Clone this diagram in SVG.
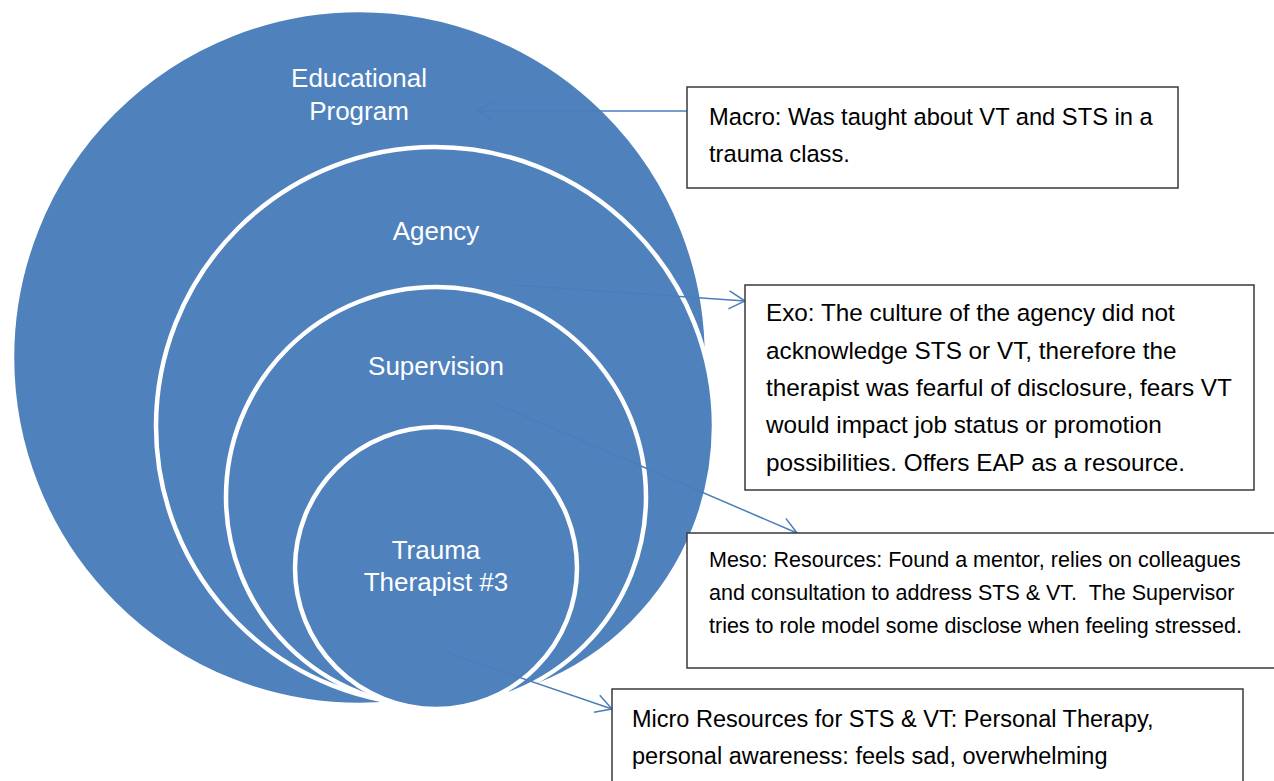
<svg xmlns="http://www.w3.org/2000/svg" width="1274" height="781" viewBox="0 0 1274 781">
  <defs>
    <style>
      .ring { fill: #4F81BD; stroke: #FFFFFF; stroke-width: 4.5; }
      .lbl { font-family: "Liberation Sans", Arial, sans-serif; font-size: 26px; fill: #FFFFFF; text-anchor: middle; }
      .box { fill: #FFFFFF; stroke: #3A3A3A; stroke-width: 1.5; }
      .txt { font-family: "Liberation Sans", Arial, sans-serif; fill: #000000; }
      .conn { fill: none; stroke: #4A7EBB; stroke-width: 1.5; marker-end: url(#arr); }
    </style>
    <marker id="arr" viewBox="0 0 18 20" refX="17" refY="10" markerWidth="18" markerHeight="20" markerUnits="userSpaceOnUse" orient="auto">
      <path d="M1,1 L17,10 L1,19" fill="none" stroke="#4A7EBB" stroke-width="1.5"/>
    </marker>
  </defs>
  <rect x="0" y="0" width="1274" height="781" fill="#FFFFFF"/>

  <g id="educational-program">
    <circle class="ring" cx="359.5" cy="357.5" r="347.5"/>
  </g>
  <g id="agency">
    <circle class="ring" cx="435" cy="426" r="279"/>
  </g>
  <g id="supervision">
    <circle class="ring" cx="436" cy="497" r="210"/>
  </g>
  <g id="trauma-therapist">
    <circle class="ring" cx="436" cy="568" r="141"/>
  </g>

  <g id="labels">
    <text class="lbl" x="359" y="87">Educational</text>
    <text class="lbl" x="359" y="120">Program</text>
    <text class="lbl" x="436" y="240">Agency</text>
    <text class="lbl" x="436" y="375">Supervision</text>
    <text class="lbl" x="436" y="559">Trauma</text>
    <text class="lbl" x="436" y="591">Therapist #3</text>
  </g>

  <g id="connectors">
    <line class="conn" x1="687" y1="111" x2="477" y2="111"/>
    <line class="conn" x1="514" y1="285" x2="745" y2="301"/>
    <line class="conn" x1="492" y1="402" x2="797" y2="533"/>
    <line class="conn" x1="448" y1="653" x2="612" y2="709"/>
  </g>

  <g id="macro">
    <rect class="box" x="687" y="87" width="491" height="101"/>
    <text class="txt" font-size="23.7" x="709" y="125">Macro: Was taught about VT and STS in a</text>
    <text class="txt" font-size="23.7" x="709" y="162">trauma class.</text>
  </g>

  <g id="exo">
    <rect class="box" x="745" y="285" width="509" height="205"/>
    <text class="txt" font-size="24.3" x="766" y="321">Exo: The culture of the agency did not</text>
    <text class="txt" font-size="24.3" x="766" y="359">acknowledge STS or VT, therefore the</text>
    <text class="txt" font-size="24.3" x="766" y="396">therapist was fearful of disclosure, fears VT</text>
    <text class="txt" font-size="24.3" x="766" y="433">would impact job status or promotion</text>
    <text class="txt" font-size="24.3" x="766" y="471">possibilities. Offers EAP as a resource.</text>
  </g>

  <g id="meso">
    <rect class="box" x="687" y="533" width="595" height="135"/>
    <text class="txt" font-size="21.5" x="709" y="567">Meso: Resources: Found a mentor, relies on colleagues</text>
    <text class="txt" font-size="21.5" x="709" y="600" xml:space="preserve">and consultation to address STS &amp; VT.  The Supervisor</text>
    <text class="txt" font-size="21.5" x="709" y="633">tries to role model some disclose when feeling stressed.</text>
  </g>

  <g id="micro">
    <rect class="box" x="612" y="689" width="631" height="110"/>
    <text class="txt" font-size="23.5" x="632" y="727">Micro Resources for STS &amp; VT: Personal Therapy,</text>
    <text class="txt" font-size="23.5" x="632" y="764">personal awareness: feels sad, overwhelming</text>
  </g>
</svg>
